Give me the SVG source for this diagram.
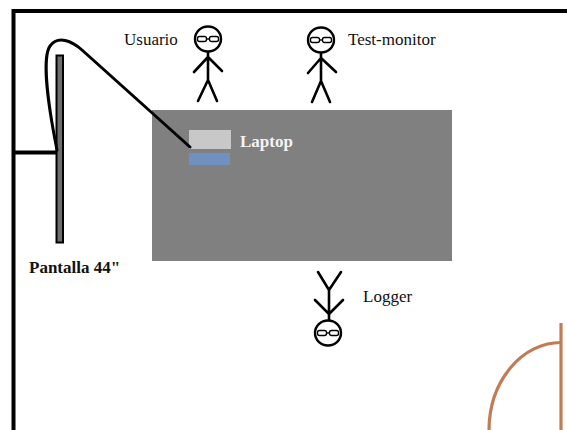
<svg xmlns="http://www.w3.org/2000/svg" width="567" height="430" viewBox="0 0 567 430">
  <style>
    .wall { stroke: #000; stroke-width: 4; fill: none; }
    .fig { stroke: #000; stroke-width: 2.6; fill: none; stroke-linecap: round; }
    .head { stroke: #000; stroke-width: 2.4; fill: #fff; }
    .lens { stroke: #000; stroke-width: 1.4; fill: #fff; }
    .lbl { font-family: "Liberation Serif", "Times New Roman", serif; font-size: 17px; fill: #111; }
    .bold { font-weight: bold; }
  </style>
  <defs>
    <!-- head with glasses, centered at origin -->
    <g id="face">
      <ellipse class="head" cx="0" cy="0" rx="13" ry="12.5"/>
      <rect class="lens" x="-10.5" y="-2.5" width="9" height="5" rx="2"/>
      <rect class="lens" x="1.5" y="-2.5" width="9" height="5" rx="2"/>
      <line x1="-1.5" y1="0" x2="1.5" y2="0" stroke="#000" stroke-width="1.4"/>
    </g>
  </defs>

  <rect width="567" height="430" fill="#fff"/>

  <!-- room walls -->
  <g id="walls">
    <path class="wall" d="M13.5 430 V11 H567"/>
    <line class="wall" x1="13.5" y1="152.5" x2="57" y2="152.5" stroke-width="3.5"/>
  </g>

  <!-- door -->
  <g id="door" fill="none" stroke="#c27c55" stroke-width="3.2">
    <line x1="561" y1="323" x2="561" y2="430"/>
    <path d="M561 342.5 A72 88 0 0 0 489 430.5"/>
  </g>

  <!-- table -->
  <g id="table">
    <rect x="152" y="110" width="300" height="151" fill="#808080"/>
  </g>

  <!-- laptop -->
  <g id="laptop">
    <rect x="189" y="130" width="42" height="19" fill="#c8c8c8"/>
    <rect x="189" y="153" width="41" height="12" fill="#7090c0"/>
    <text class="lbl bold" x="240" y="147" style="fill:#f4f4f4">Laptop</text>
  </g>

  <!-- screen -->
  <g id="pantalla">
    <rect x="56.5" y="55.5" width="6.5" height="187" fill="#6e6e6e" stroke="#000" stroke-width="2"/>
    <text class="lbl bold" x="29" y="273">Pantalla 44"</text>
  </g>

  <!-- cable laptop to screen -->
  <g id="connectors">
    <path d="M190 147 L82 50 C72 41 58 35 50 46 C43 56 46 95 57 150" fill="none" stroke="#000" stroke-width="3" stroke-linecap="round"/>
  </g>

  <!-- user -->
  <g id="usuario">
    <path class="fig" d="M208 52 V80 M208 57 L194 72 M208 57 L222 71 M208 80 L198 101 M208 80 L217 101"/>
    <use href="#face" x="208" y="39"/>
    <text class="lbl" x="124" y="45">Usuario</text>
  </g>

  <!-- test monitor -->
  <g id="test-monitor">
    <path class="fig" d="M321 52 V81 M321 58 L308 73 M321 58 L336 72 M321 81 L312 102 M321 81 L330 102"/>
    <use href="#face" x="321" y="40"/>
    <text class="lbl" x="348" y="45">Test-monitor</text>
  </g>

  <!-- logger -->
  <g id="logger">
    <path class="fig" d="M329 321 V290 M329 290 L318 272 M329 290 L341 272 M329 314 L315 300 M329 314 L343 300"/>
    <use href="#face" x="328" y="333"/>
    <text class="lbl" x="363" y="302">Logger</text>
  </g>
</svg>
